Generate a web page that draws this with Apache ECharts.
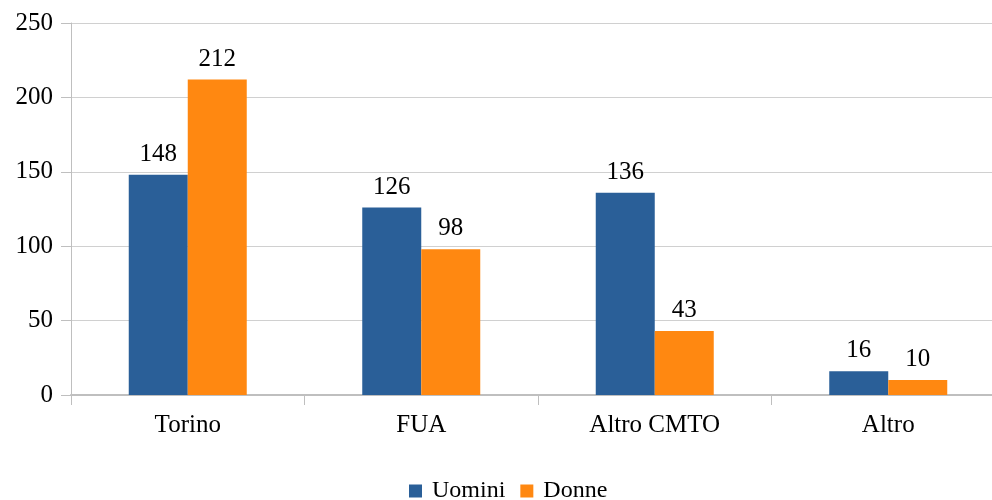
<!DOCTYPE html>
<html><head><meta charset="utf-8">
<script src="https://cdn.jsdelivr.net/npm/echarts@6/dist/echarts.min.js"></script>
<style>html,body{margin:0;padding:0;background:#fff}#c{width:992px;height:500px}</style>
</head><body><div id="c"></div>
<script>
const categories = ['Torino', 'FUA', 'Altro CMTO', 'Altro'];
const uomini = [148, 126, 136, 16];
const donne = [212, 98, 43, 10];
const yTicks = {min: 0, max: 250, interval: 50};

const font = 'Liberation Serif, Times New Roman, serif';
const chart = echarts.init(document.getElementById('c'), null, {renderer: 'canvas'});
const lbl = {show: true, position: 'top', distance: 8, color: '#000', fontFamily: font, fontSize: 25};
chart.setOption({
  animation: false,
  backgroundColor: '#fff',
  grid: {left: 71, width: 934, top: 23, height: 372, containLabel: false, outerBoundsMode: 'none'},
  legend: {
    top: 474, left: 404, itemWidth: 13, itemHeight: 13, itemGap: 15,
    textStyle: {fontFamily: font, fontSize: 24, color: '#000', padding: [0, 0, 0, 5]},
    icon: 'rect',
    data: ['Uomini', 'Donne']
  },
  xAxis: {
    type: 'category', data: categories,
    axisLine: {lineStyle: {color: '#bfbfbf', width: 2}},
    axisTick: {show: true, length: 10, lineStyle: {color: '#bfbfbf'}, alignWithLabel: false},
    axisLabel: {fontFamily: font, fontSize: 25, color: '#000', margin: 18}
  },
  yAxis: {
    type: 'value', min: yTicks.min, max: yTicks.max, interval: yTicks.interval,
    axisLine: {show: true, lineStyle: {color: '#bfbfbf'}},
    axisTick: {show: true, length: 10, lineStyle: {color: '#bfbfbf'}},
    axisLabel: {fontFamily: font, fontSize: 25, color: '#000', margin: 18},
    splitLine: {lineStyle: {color: '#d0d0d0'}}
  },
  series: [
    {name: 'Uomini', type: 'bar', data: uomini, barWidth: 59, barGap: '0%', itemStyle: {color: '#2A5F98'}, label: lbl},
    {name: 'Donne', type: 'bar', data: donne, barWidth: 59, barGap: '0%', itemStyle: {color: '#FF8811'}, label: lbl}
  ]
});
</script></body></html>
